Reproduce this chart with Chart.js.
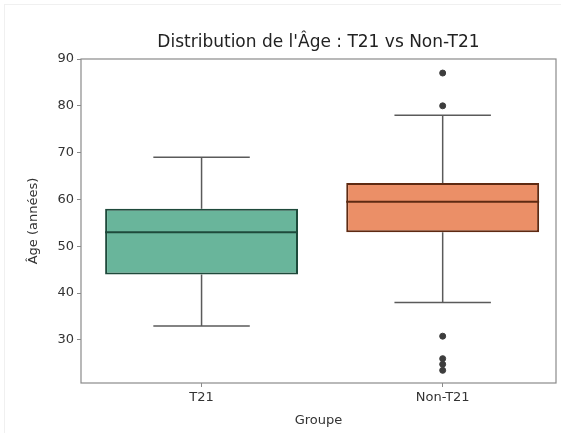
<!DOCTYPE html>
<html>
<head>
<meta charset="utf-8">
<script src="https://cdn.jsdelivr.net/npm/chart.js@4.4.1/dist/chart.umd.min.js"></script>
<style>
  html, body { margin: 0; padding: 0; background: #fff; }
  #wrap { width: 561px; height: 433px; position: relative; }
</style>
</head>
<body>
<div id="wrap"><canvas id="ageChart" width="561" height="433"></canvas></div>
<script>
// Box plot summary
const groups = ['T21', 'Non-T21'];
const whiskerLow = [33, 38];
const q1 = [44, 53];
const median = [53, 59.5];
const q3 = [58, 63.5];
const whiskerHigh = [69, 78];
const outliers = [[], [87, 80, 30.8, 26, 24.8, 23.5]];
const yTicks = [30, 40, 50, 60, 70, 80, 90];

const fills = ['#69b59b', '#eb8f67'];
const edges = ['#1e4a3b', '#5e2a12'];
const whiskerColor = '#5a5a5a';
const font = "'DejaVu Sans', sans-serif";

function segment(x1, y1, x2, y2, color, width) {
  return {
    type: 'line',
    data: [{ x: x1, y: y1 }, { x: x2, y: y2 }],
    borderColor: color,
    borderWidth: width,
    pointRadius: 0,
    fill: false,
    order: 0
  };
}

const datasets = [{
  type: 'bar',
  label: 'box',
  data: groups.map((g, i) => ({ x: i, y: [q1[i], q3[i]] })),
  backgroundColor: fills,
  borderColor: edges,
  borderWidth: 2,
  borderSkipped: false,
  categoryPercentage: 1,
  barPercentage: 0.8,
  order: 2
}];

groups.forEach((g, i) => {
  datasets.push(segment(i, q3[i], i, whiskerHigh[i], whiskerColor, 1.5));
  datasets.push(segment(i, q1[i], i, whiskerLow[i], whiskerColor, 1.5));
  datasets.push(segment(i - 0.2, whiskerHigh[i], i + 0.2, whiskerHigh[i], whiskerColor, 1.5));
  datasets.push(segment(i - 0.2, whiskerLow[i], i + 0.2, whiskerLow[i], whiskerColor, 1.5));
  datasets.push(segment(i - 0.4, median[i], i + 0.4, median[i], edges[i], 2));
});

datasets.push({
  type: 'scatter',
  data: outliers.flatMap((vals, i) => vals.map(v => ({ x: i, y: v }))),
  backgroundColor: '#3d3d3d',
  borderColor: '#3d3d3d',
  pointRadius: 3,
  order: 0
});

// frame round the plot area and centred title (matplotlib style)
const frame = {
  id: 'frame',
  beforeDraw(chart) {
    const ctx = chart.ctx;
    ctx.save();
    ctx.strokeStyle = '#f0f0f0';
    ctx.lineWidth = 1;
    ctx.strokeRect(4.5, 4.5, 600, 600);
    ctx.restore();
  },
  afterDraw(chart) {
    const a = chart.chartArea, ctx = chart.ctx;
    ctx.save();
    ctx.strokeStyle = '#8a8a8a';
    ctx.lineWidth = 1.2;
    ctx.strokeRect(a.left, a.top, a.right - a.left, a.bottom - a.top);
    ctx.fillStyle = '#222';
    ctx.font = '17px ' + font;
    ctx.textAlign = 'center';
    ctx.textBaseline = 'middle';
    ctx.fillText('Distribution de l\'Âge : T21 vs Non-T21', (a.left + a.right) / 2, 43);
    ctx.restore();
  }
};

new Chart(document.getElementById('ageChart').getContext('2d'), {
  type: 'bar',
  data: { datasets: datasets },
  options: {
    responsive: false,
    animation: false,
    layout: { padding: { left: 26, right: -2, top: 59, bottom: 0 } },
    plugins: {
      legend: { display: false },
      tooltip: { enabled: false },
      title: { display: false }
    },
    scales: {
      x: {
        type: 'linear',
        min: -0.5,
        max: 1.47,
        offset: false,
        grid: { display: true, offset: false, drawOnChartArea: false, drawTicks: true, tickLength: 4, color: '#8a8a8a' },
        border: { display: false },
        afterBuildTicks(scale) { scale.ticks = groups.map((g, i) => ({ value: i })); },
        ticks: {
          color: '#333',
          font: { family: font, size: 13 },
          padding: 3,
          callback: (v) => groups[v]
        },
        title: { display: true, text: 'Groupe', color: '#333', font: { family: font, size: 13 }, padding: { top: 3, bottom: 5 } },
        afterFit(scale) { scale.height = 50; }
      },
      y: {
        type: 'linear',
        min: 20.8,
        max: 90,
        grid: { display: true, drawOnChartArea: false, drawTicks: true, tickLength: 4, color: '#8a8a8a' },
        border: { display: false },
        ticks: { color: '#333', font: { family: font, size: 13 }, padding: 3 },
        afterBuildTicks(scale) { scale.ticks = yTicks.map(v => ({ value: v })); },
        title: { display: true, text: 'Âge (années)', color: '#333', font: { family: font, size: 13 }, padding: { top: 0, bottom: 0 } },
        afterFit(scale) { scale.width = 55; }
      }
    }
  },
  plugins: [frame]
});
</script>
</body>
</html>
